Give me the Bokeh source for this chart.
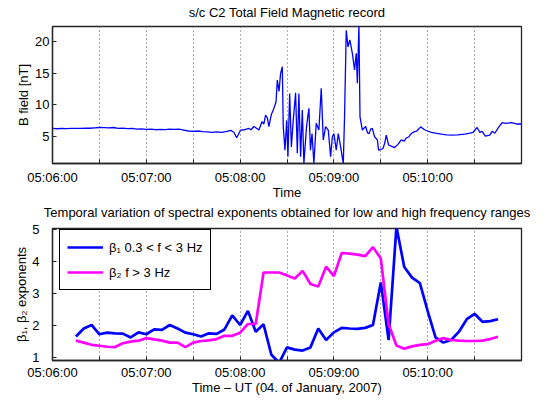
from bokeh.plotting import figure
from bokeh.layouts import column
from bokeh.models import Range1d, FixedTicker, Legend, LegendItem
from bokeh.embed import file_html
from bokeh.resources import INLINE

# ---------------- data ----------------
# seconds after 05:06:00 UT
t_top = [0, 3, 6, 9, 12, 15, 18, 21, 24, 27, 30, 33, 36, 39, 42, 45, 48, 51, 54, 57,
         60, 63, 66, 69, 72, 75, 78, 81, 84, 87, 90, 93, 96, 99, 102, 105, 108, 111, 114, 116,
         117.8, 119, 120.3, 123, 125.6, 127, 128.8, 130, 132, 134, 135.2, 136.3, 137.5, 138.4, 140,
         141.6, 143, 143.8, 144.9, 145.9, 147, 147.6, 148.7, 149.8, 150.6, 151.7, 152.8, 154,
         155.5, 156.6, 157.6, 158.7, 159.8, 160.8, 162.5, 164, 165, 166, 167.2, 168.7, 170.4,
         171.9, 173.2, 174.7, 176.4, 177.9, 179, 180, 181.5, 182.8, 184.3, 186, 186.8, 187.9,
         189, 190.2, 191.8, 193.2, 194.3, 195, 196, 196.7, 198.2, 200.3, 201.5, 202.5, 203.5,
         204.6, 206, 207.8, 208.6, 210, 211.4, 212.5, 213.5, 215, 217, 218.8, 221, 223.1, 225,
         226.3, 228, 229.5, 231.6, 233, 235.5, 238, 240, 242.3, 245, 248.7, 252, 255.1, 259,
         263.7, 267, 269, 271.6, 273.3, 274.8, 276.9, 279.7, 281.2, 282.9, 285.1, 287.6, 290,
         293.6, 296.8, 300]
b_top = [6.3, 6.25, 6.3, 6.28, 6.3, 6.32, 6.3, 6.35, 6.33, 6.4, 6.45, 6.42, 6.38, 6.45, 6.3, 6.35, 6.28, 6.3, 6.2, 6.22,
         6.15, 6.18, 6.1, 6.15, 6.12, 6.2, 6.15, 6.2, 6.05, 5.9, 5.85, 5.9, 5.8, 5.75, 5.7, 5.75, 5.7, 5.8, 6.0, 5.7,
         4.85, 5.4, 6.05, 6.1, 6.3, 6.1, 6.6, 6.4, 6.05, 7.35, 7.0, 8.4, 7.9, 6.6, 8.5,
         9.45, 10.5, 13.9, 12.1, 14.95, 16.0, 6.6, 2.9, 7.6, 1.85, 11.8, 3.4, 7.6,
         11.9, 2.4, 11.8, 1.85, 9.2, 0.8, 6.6, 9.45, 2.9, 5.5, 0.8, 7.1, 6.05,
         12.6, 4.5, 6.6, 6.05, 1.85, 5.0, 5.5, 2.9, 5.5, 3.4, 0.8, 8.1, 21.7,
         19.1, 20.2, 18.1, 15.5, 18.1, 13.4, 22.5, 8.1, 6.05, 6.6, 5.6, 5.5, 6.2,
         6.3, 5.0, 4.5, 2.9, 3.0, 3.15, 4.0, 5.25, 3.7, 3.5, 3.3, 3.8, 4.5, 4.3,
         4.8, 5.0, 5.5, 5.8, 5.9, 6.55, 6.1, 5.9, 5.7, 5.55, 5.4, 5.3, 5.25, 5.3,
         5.4, 5.55, 5.7, 6.45, 5.7, 5.85, 5.1, 5.25, 5.85, 5.55, 6.4, 7.2, 7.1,
         7.2, 7.0, 7.0]

t_beta = [15, 20, 25, 30, 35, 40, 45, 50, 55, 60, 65, 70, 75, 80, 85, 90, 95, 100, 105, 110,
          115, 120, 125, 130, 135, 140, 145, 150, 155, 160, 165, 170, 175, 180, 185, 190, 195, 200, 205, 210,
          215, 220, 225, 230, 235, 240, 245, 250, 255, 260, 265, 270, 275, 280, 285]
beta1 = [1.67, 1.92, 2.03, 1.74, 1.79, 1.77, 1.76, 1.64, 1.8, 1.74, 1.89, 1.88, 2.03, 1.92, 1.79, 1.74, 1.67, 1.77, 1.75, 1.89,
         2.33, 2.03, 2.47, 1.82, 2.05, 1.1, 0.85, 1.33, 1.26, 1.23, 1.33, 1.92, 1.56, 1.8, 1.94, 1.92, 1.91, 1.94, 2.03, 3.36,
         1.56, 5.1, 3.84, 3.51, 3.34, 2.46, 1.64, 1.48, 1.56, 1.82, 2.21, 2.38, 2.13, 2.15, 2.21]
beta2 = [1.54, 1.48, 1.41, 1.38, 1.35, 1.34, 1.46, 1.51, 1.54, 1.62, 1.58, 1.54, 1.48, 1.48, 1.34, 1.48, 1.53, 1.55, 1.59, 1.69,
         1.69, 1.79, 2.06, 2.06, 3.67, 3.67, 3.67, 3.58, 3.48, 3.72, 3.31, 3.23, 3.85, 3.56, 4.28, 4.26, 4.23, 4.18, 4.46, 4.11,
         2.05, 1.39, 1.29, 1.36, 1.41, 1.43, 1.54, 1.62, 1.56, 1.54, 1.53, 1.53, 1.54, 1.59, 1.66]

label_pos = [0, 60, 120, 180, 240]
tick_labels = ["05:06:00", "05:07:00", "05:08:00", "05:09:00", "05:10:00"]
half_pos = [30, 90, 150, 210, 270]
yticks_top = [5, 10, 15, 20]
yticks_bot = [1, 2, 3, 4, 5]

FONT = "Liberation Sans"
FS = "13px"
DARK = "#262626"


def style(p, yticks, ylabel, xlabel, ylab_standoff, yaxis_label_standoff, title_standoff,
          xlab_standoff, xaxis_label_standoff):
    p.title.align = "center"
    p.title.text_font = FONT
    p.title.text_font_size = FS
    p.title.text_font_style = "normal"
    p.title.text_color = "black"
    p.title.standoff = title_standoff
    p.outline_line_color = DARK
    p.outline_line_width = 1.3
    p.outline_line_alpha = 1.0

    xt = FixedTicker(ticks=label_pos, minor_ticks=half_pos)
    xa = p.xaxis[0]
    xa.ticker = xt
    xa.major_label_overrides = dict(zip(label_pos, tick_labels))
    xa.axis_label = xlabel
    ya = p.yaxis[0]
    ya.ticker = FixedTicker(ticks=yticks)
    ya.axis_label = ylabel
    ya.major_label_standoff = ylab_standoff
    ya.axis_label_standoff = yaxis_label_standoff
    xa.major_label_standoff = xlab_standoff
    xa.axis_label_standoff = xaxis_label_standoff
    xa.minor_tick_in = 4
    xa.minor_tick_out = 0
    xa.minor_tick_line_color = DARK
    ya.minor_tick_line_color = None
    for ax in (xa, ya):
        ax.major_tick_in = 4
        ax.major_tick_out = 0
        ax.axis_line_color = DARK
        ax.axis_line_width = 1.3
        ax.major_tick_line_color = DARK
        ax.major_label_text_font = FONT
        ax.major_label_text_font_size = FS
        ax.major_label_text_color = "black"
        ax.major_label_text_line_height = 1.0
        ax.axis_label_text_font = FONT
        ax.axis_label_text_font_size = FS
        ax.axis_label_text_font_style = "normal"
        ax.axis_label_text_color = "black"
        ax.axis_label_text_line_height = 1.0

    p.xgrid.ticker = xt
    p.xgrid.grid_line_color = "#555555"
    p.xgrid.grid_line_dash = "1 3"
    p.xgrid.grid_line_width = 1
    p.xgrid.minor_grid_line_color = "#555555"
    p.xgrid.minor_grid_line_dash = "1 3"
    p.xgrid.minor_grid_line_width = 1
    p.ygrid.visible = False


p1 = figure(width=545, height=208, output_backend="svg", toolbar_location=None,
            x_range=Range1d(0, 300), y_range=Range1d(0.8, 22.3),
            min_border_left=52, min_border_right=24, min_border_top=31, min_border_bottom=40,
            title="s/c C2 Total Field Magnetic record", background_fill_color="white",
            border_fill_color="white", border_fill_alpha=0.0, margin=(-5, 0, 0, 0))
style(p1, yticks_top, "B field [nT]", "Time", 3, 1, 14, 6, -3)
p1.line(t_top, b_top, line_color="#0000FF", line_width=1.3)

p2 = figure(width=545, height=208, output_backend="svg", toolbar_location=None,
            x_range=Range1d(0, 300), y_range=Range1d(0.92, 5.045),
            min_border_left=52, min_border_right=24, min_border_top=35, min_border_bottom=41,
            title="Temporal variation of spectral exponents obtained for low and high frequency ranges",
            background_fill_color="white", border_fill_color="white", border_fill_alpha=0.0,
            margin=(-10, 0, 0, 0))
style(p2, yticks_bot, "β₁, β₂ exponents", "Time – UT (04. of January, 2007)", 13, 0, 18, 4, -3)
r1 = p2.line(t_beta, beta1, line_color="#0000FF", line_width=2.7)
r2 = p2.line(t_beta, beta2, line_color="#FF00FF", line_width=2.7)

legend = Legend(items=[LegendItem(label="β₁ 0.3 < f < 3 Hz", renderers=[r1]),
                       LegendItem(label="β₂ f > 3 Hz", renderers=[r2])],
                location=(7, 70), padding=7, spacing=5, margin=0,
                glyph_width=36, glyph_height=20, label_height=20, label_standoff=6,
                label_text_font=FONT, label_text_font_size=FS, label_text_color="black",
                border_line_color="black", border_line_width=1.5, border_line_alpha=1.0,
                background_fill_color="white", background_fill_alpha=1.0)
p2.add_layout(legend)

layout = column(p1, p2, spacing=0)
open("out.html", "w").write(file_html(layout, INLINE))
